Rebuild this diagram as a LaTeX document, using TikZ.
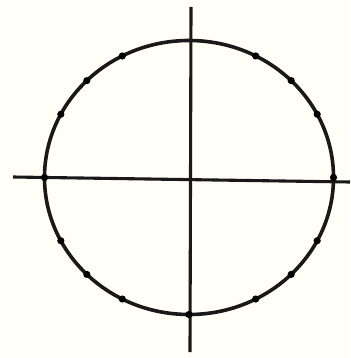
\documentclass[tikz,border=0pt]{standalone}
\usetikzlibrary{calc}
\begin{document}
\begin{tikzpicture}[x=1pt,y=-1pt,
  curve/.style={line width=3.6pt,draw=black!90},
  axis/.style={line width=3.1pt,draw=black!90},
  dotmark/.style={fill=black,draw=none}]
\useasboundingbox (0,0) rectangle (350,358);
\fill[white!97!yellow] (0,0) rectangle (350,358);
\coordinate (c) at (189,177.5);
\coordinate (xl) at (13,177);
\coordinate (xr) at (350,182);
\coordinate (yt) at (191,7);
\coordinate (yb) at (190,352);
\draw[axis] (xl) -- (xr);
\draw[axis] (yt) -- (yb);
\draw[curve] (c) ellipse [x radius=144.5, y radius=137];
\foreach \a in {27.5,45,62.5,117.5,135,152.5,207.5,225,242.5,297.5,315,332.5,0,180,270}{
  \fill[dotmark] ($(c)+({144.5*cos(\a)},{-137*sin(\a)})$) circle (3.6pt);
}
\end{tikzpicture}
\end{document}
